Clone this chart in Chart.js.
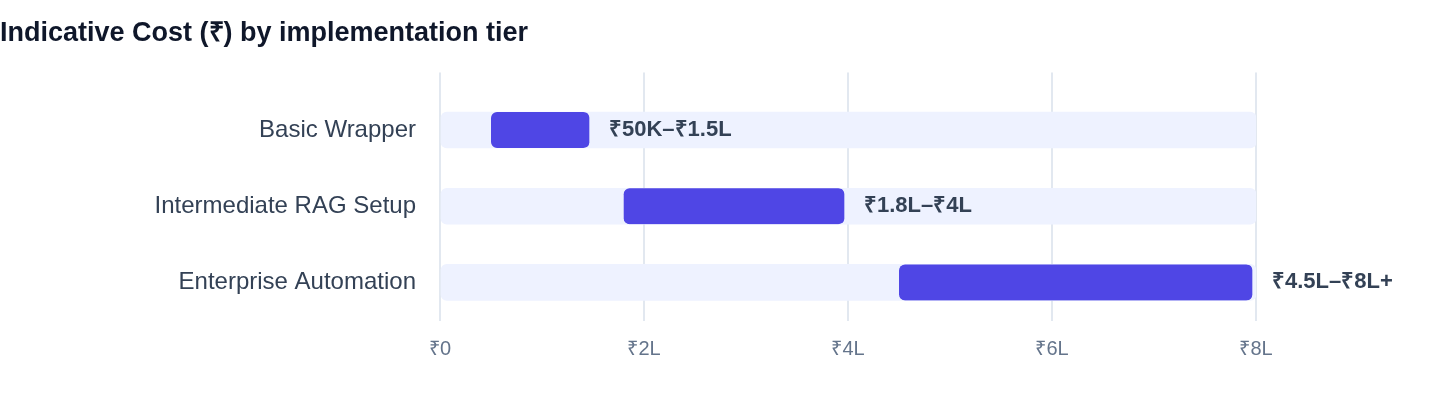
<!DOCTYPE html>
<html>
<head>
<meta charset="utf-8">
<script src="https://cdn.jsdelivr.net/npm/chart.js@4.4.1/dist/chart.umd.min.js"></script>
<style>
  html, body { margin: 0; padding: 0; background: #ffffff; }
  #wrap { position: relative; width: 1440px; height: 408px; }
</style>
</head>
<body>
<div id="wrap"><canvas id="c"></canvas></div>
<script>
const categories = ['Basic Wrapper', 'Intermediate RAG Setup', 'Enterprise Automation'];
const costLow = [0.5, 1.8, 4.5];     // in lakh ₹
const costHigh = [1.5, 4, 8];        // in lakh ₹
const trackMax = [8, 8, 8];
const rangeLabels = ['₹50K–₹1.5L', '₹1.8L–₹4L', '₹4.5L–₹8L+'];
const xTicks = [0, 2, 4, 6, 8];

Chart.defaults.font.family = "'Liberation Sans', Arial, Helvetica, sans-serif";

const trackData = categories.map((c, i) => ({ y: i, x: [0, trackMax[i]] }));
const valueData = categories.map((c, i) => ({ y: i, x: [costLow[i], costHigh[i]] }));

const valueLabelPlugin = {
  id: 'valueLabels',
  afterDatasetsDraw(chart) {
    const ctx = chart.ctx;
    const meta = chart.getDatasetMeta(1);
    const xs = chart.scales.x;
    ctx.save();
    ctx.font = "bold 22px 'Liberation Sans', Arial, sans-serif";
    ctx.fillStyle = '#334155';
    ctx.textAlign = 'left';
    ctx.textBaseline = 'middle';
    meta.data.forEach((el, i) => {
      const x = xs.getPixelForValue(costHigh[i]) + 16;
      ctx.fillText(rangeLabels[i], x, el.y);
    });
    ctx.restore();
  }
};

new Chart(document.getElementById('c'), {
  type: 'bar',
  data: {
    datasets: [
      {
        label: 'track',
        data: trackData,
        backgroundColor: '#EEF2FF',
        borderRadius: 6,
        borderSkipped: false,
        barThickness: 36,
        grouped: false,
        order: 2
      },
      {
        label: 'cost',
        data: valueData,
        backgroundColor: '#4F46E5',
        borderColor: 'rgba(0,0,0,0)',
        borderWidth: { top: 0, right: 4, bottom: 0, left: 0 },
        borderRadius: { topLeft: 6, bottomLeft: 6, topRight: 10, bottomRight: 10 },
        borderSkipped: false,
        barThickness: 36,
        grouped: false,
        order: 1
      }
    ]
  },
  options: {
    indexAxis: 'y',
    responsive: true,
    maintainAspectRatio: false,
    animation: false,
    layout: { padding: { left: 0, right: 184, top: 0, bottom: 31 } },
    plugins: {
      legend: { display: false },
      tooltip: { enabled: false },
      title: {
        display: true,
        text: 'Indicative Cost (₹) by implementation tier',
        align: 'start',
        color: '#0f172a',
        font: { size: 27, weight: 'bold' },
        padding: { top: 17, bottom: 23 }
      }
    },
    scales: {
      x: {
        type: 'linear',
        min: 0,
        max: 8,
        afterBuildTicks: (s) => { s.ticks = xTicks.map(v => ({ value: v })); },
        grid: { color: '#e2e8f0', drawTicks: false, lineWidth: 2 },
        border: { display: false },
        ticks: {
          color: '#64748b',
          font: { size: 20 },
          padding: 16,
          callback: (v) => v === 0 ? '₹0' : '₹' + v + 'L'
        }
      },
      y: {
        type: 'linear',
        reverse: true,
        offset: false,
        min: -0.7566,
        max: 2.5066,
        afterBuildTicks: (s) => { s.ticks = categories.map((c, i) => ({ value: i })); },
        afterFit: (s) => { s.width = 440; },
        grid: { display: false, drawTicks: false, offset: false },
        border: { display: false },
        ticks: {
          color: '#334155',
          font: { size: 24 },
          padding: 24,
          callback: (v) => categories[v]
        }
      }
    }
  },
  plugins: [valueLabelPlugin]
});
</script>
</body>
</html>
